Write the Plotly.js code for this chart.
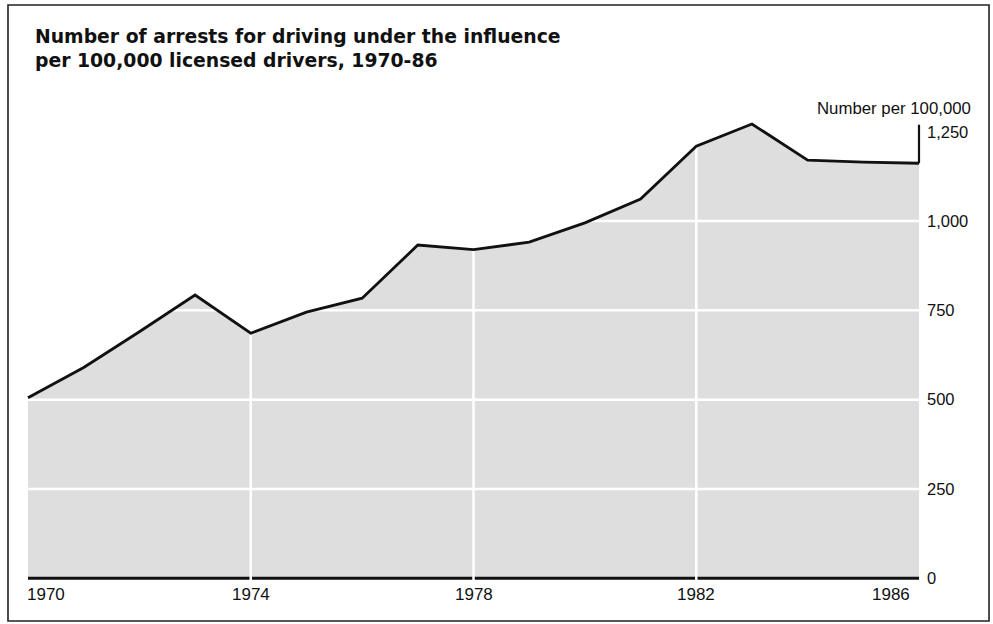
<!DOCTYPE html>
<html>
<head>
<meta charset="utf-8">
<script src="https://cdn.plot.ly/plotly-3.0.1.min.js"></script>
<style>
  html, body { margin: 0; padding: 0; background: #ffffff; }
  #chart { width: 993px; height: 624px; }
</style>
</head>
<body>
<div id="chart"></div>
<script>
// ---- data ----
const years = [1970, 1971, 1972, 1973, 1974, 1975, 1976, 1977, 1978, 1979, 1980, 1981, 1982, 1983, 1984, 1985, 1986];
const arrestsPer100k = [505, 590, 690, 793, 686, 745, 784, 933, 920, 941, 995, 1062, 1210, 1272, 1171, 1165, 1162];
const xTickYears = [1970, 1974, 1978, 1982, 1986];
const gridYears = [1974, 1978, 1982];
const yTickValues = [0, 250, 500, 750, 1000, 1250];
const gridLevels = [250, 500, 750, 1000];
const axisCapValue = 1270;
const titleText = "Number of arrests for driving under the influence<br>per 100,000 licensed drivers, 1970-86";
const unitLabel = "Number per 100,000";

const firstYear = years[0];
const lastYear = years[years.length - 1];
const lastValue = arrestsPer100k[arrestsPer100k.length - 1];

const fillGray = '#dedede';
const gapColor = '#ffffff';
const ink = '#111111';
const labelFont = {family: 'Liberation Sans, Arial, sans-serif', size: 17, color: ink};

const traces = [];

// stippled area
traces.push({
  x: years, y: arrestsPer100k, type: 'scatter', mode: 'lines',
  fill: 'tozeroy', fillcolor: fillGray, line: {width: 0, color: fillGray},
  hoverinfo: 'skip', showlegend: false
});

// baseline
traces.push({
  x: [firstYear, lastYear], y: [0, 0], type: 'scatter', mode: 'lines',
  line: {color: ink, width: 3}, hoverinfo: 'skip', showlegend: false
});

// light gaps (grid) through the stipple
gridLevels.forEach(v => {
  traces.push({
    x: [firstYear, lastYear], y: [v, v], type: 'scatter', mode: 'lines',
    line: {color: gapColor, width: 2.5}, hoverinfo: 'skip', showlegend: false
  });
});
gridYears.forEach(yr => {
  const v = arrestsPer100k[years.indexOf(yr)];
  traces.push({
    x: [yr, yr], y: [-8, v], type: 'scatter', mode: 'lines',
    line: {color: gapColor, width: 2.5}, hoverinfo: 'skip', showlegend: false
  });
});

// the data line
traces.push({
  x: years, y: arrestsPer100k, type: 'scatter', mode: 'lines',
  line: {color: ink, width: 2.8}, hoverinfo: 'x+y', showlegend: false
});

// right-hand cap stroke
traces.push({
  x: [lastYear, lastYear], y: [lastValue, axisCapValue], type: 'scatter', mode: 'lines',
  line: {color: ink, width: 2.2}, hoverinfo: 'skip', showlegend: false
});

const annotations = xTickYears.map((yr, i) => ({
  x: yr, xref: 'x', y: 0, yref: 'y',
  text: String(yr), showarrow: false,
  xanchor: i === 0 ? 'left' : (i === xTickYears.length - 1 ? 'right' : 'center'),
  xshift: i === 0 ? -3 : (i === xTickYears.length - 1 ? -7 : 0),
  yanchor: 'middle', yshift: -16,
  font: labelFont
}));
annotations.push({
  x: 1, xref: 'paper', y: 1, yref: 'paper',
  text: unitLabel, showarrow: false,
  xanchor: 'right', xshift: 51, yanchor: 'middle', yshift: 6,
  font: {family: 'Liberation Sans, Arial, sans-serif', size: 16.8, color: ink}
});

const layout = {
  width: 993, height: 624,
  margin: {l: 26, r: 71, t: 114, b: 43},
  paper_bgcolor: '#ffffff', plot_bgcolor: '#ffffff',
  title: {
    text: titleText,
    x: 35 / 993, xref: 'container', xanchor: 'left',
    y: 1 - 43 / 624, yref: 'container', yanchor: 'top',
    font: {family: 'DejaVu Sans, sans-serif', size: 18.8, color: ink, weight: 'bold'}
  },
  xaxis: {
    range: [firstYear - 0.036, lastYear + 0.054],
    showgrid: false, zeroline: false, showline: false, showticklabels: false, ticks: ''
  },
  yaxis: {
    range: [-8, 1300], side: 'right',
    tickvals: yTickValues, tickformat: ',d',
    showgrid: false, zeroline: false, showline: false, ticks: '',
    ticklabelstandoff: 4,
    tickfont: {family: 'Liberation Sans, Arial, sans-serif', size: 16.5, color: ink}
  },
  annotations: annotations,
  shapes: [{
    type: 'rect', xref: 'paper', yref: 'paper',
    x0: -0.0201, x1: 1.0748, y0: -0.0857, y1: 1.2334,
    line: {color: '#222222', width: 1.6}, fillcolor: 'rgba(0,0,0,0)', layer: 'above'
  }],
  showlegend: false
};

Plotly.newPlot('chart', traces, layout, {displayModeBar: false});
</script>
</body>
</html>
